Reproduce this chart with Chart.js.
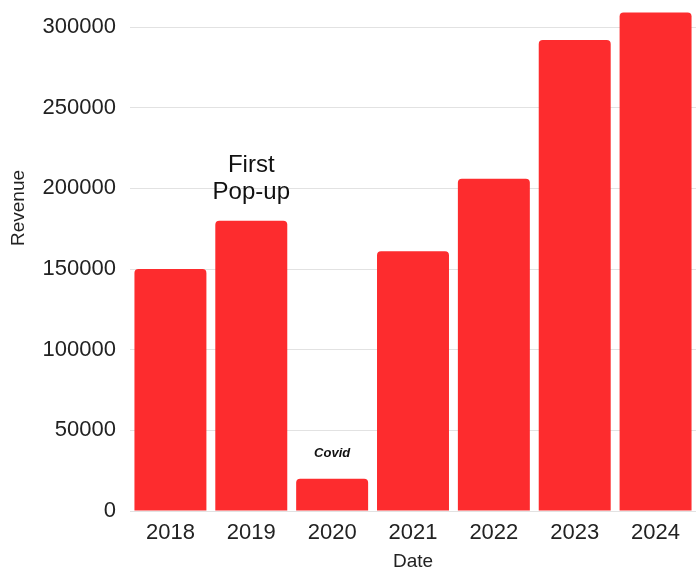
<!DOCTYPE html>
<html><head><meta charset="utf-8">
<script src="https://cdn.jsdelivr.net/npm/chart.js@4.4.1/dist/chart.umd.min.js"></script>
<style>html,body{margin:0;padding:0;background:#fff}#wrap{width:696px;height:571px}</style>
</head><body><div id="wrap"><canvas id="c"></canvas></div>
<script>
const categories = ['2018','2019','2020','2021','2022','2023','2024'];
const revenue = [150000, 180000, 20000, 161000, 206000, 292000, 309000];
const yTicks = [0, 50000, 100000, 150000, 200000, 250000, 300000];
const notes = [
  {index: 1, lines: ['First', 'Pop-up'], style: 'normal', size: 24},
  {index: 2, lines: ['Covid'], style: 'italic bold', size: 13}
];
const FONT = '"Liberation Sans", Arial, sans-serif';

const annot = {
  id: 'annot',
  afterDatasetsDraw(chart) {
    const ctx = chart.ctx, x = chart.scales.x, y = chart.scales.y;
    ctx.save();
    ctx.fillStyle = '#111';
    ctx.textAlign = 'center';
    ctx.textBaseline = 'alphabetic';
    notes.forEach(n => {
      const cx = x.getPixelForValue(n.index);
      const top = y.getPixelForValue(revenue[n.index]);
      ctx.font = n.style + ' ' + n.size + 'px ' + FONT;
      const lh = n.size * 1.1;
      const gap = 22;
      n.lines.forEach((t, i) => {
        const yy = top - gap - (n.lines.length - 1 - i) * lh;
        ctx.fillText(t, cx, yy);
      });
    });
    // y-axis title
    ctx.font = '19px ' + FONT;
    ctx.fillStyle = '#222';
    ctx.translate(19, 208);
    ctx.rotate(-Math.PI / 2);
    ctx.textBaseline = 'middle';
    ctx.fillText('Revenue', 0, 0);
    ctx.restore();
  }
};

new Chart(document.getElementById('c'), {
  type: 'bar',
  data: {
    labels: categories,
    datasets: [{
      data: revenue,
      backgroundColor: 'rgb(253,44,46)',
      borderRadius: 4,
      borderSkipped: 'bottom',
      barPercentage: 0.89,
      categoryPercentage: 1.0
    }]
  },
  options: {
    responsive: true,
    maintainAspectRatio: false,
    animation: false,
    layout: {padding: {top: 11, right: 0, left: 0, bottom: 0}},
    plugins: {legend: {display: false}, tooltip: {enabled: false}},
    scales: {
      x: {
        grid: {display: false},
        border: {display: true, color: '#e2e2e2'},
        ticks: {color: '#222', font: {family: FONT, size: 22}, padding: 1},
        title: {display: true, text: 'Date', color: '#222', font: {family: FONT, size: 19, lineHeight: 1.0}, padding: {top: 6, bottom: 0}},
        afterFit(s) { s.height = 60; }
      },
      y: {
        min: 0,
        max: 310000,
        afterBuildTicks(s) { s.ticks = yTicks.map(v => ({value: v})); },
        grid: {color: '#e2e2e2', drawTicks: false},
        border: {display: false},
        ticks: {color: '#222', font: {family: FONT, size: 22}, padding: 14, callback: v => String(v)},
        afterFit(s) { s.width = 130; s.paddingTop = 0; s.paddingBottom = 0; }
      }
    }
  },
  plugins: [annot]
});
</script>
</body></html>
